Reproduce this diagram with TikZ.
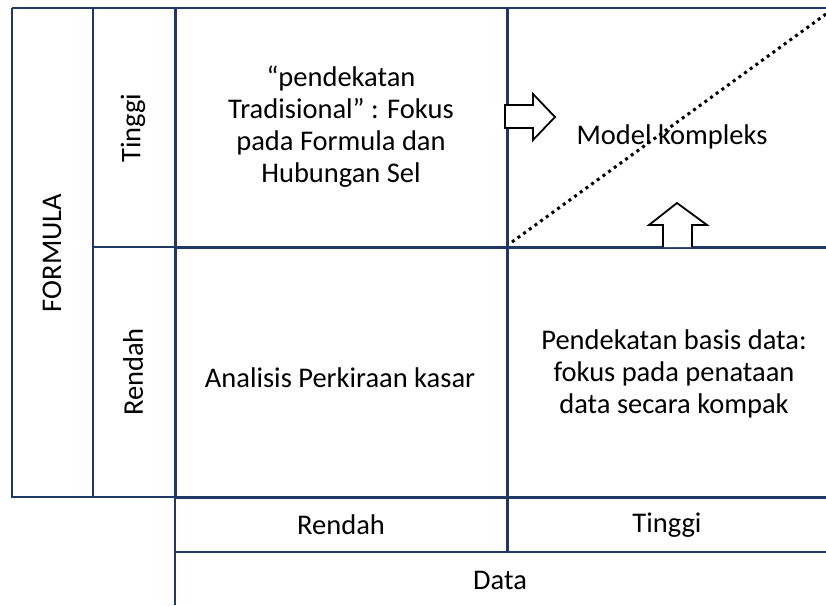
\documentclass[tikz,border=0pt]{standalone}
\usepackage{fontspec}
\setmainfont{Carlito}
\definecolor{navy}{HTML}{1F3864}
\begin{document}
\begin{tikzpicture}[x=1pt,y=-1pt,
  grid/.style={draw=navy,line width=2pt},
  gridthick/.style={draw=navy,line width=3pt},
  txt/.style={font=\fontsize{28.5}{32}\selectfont,align=center,inner sep=0pt},
  blockarrow/.style={draw=black,line width=1.8pt,fill=white,line join=miter}]
\useasboundingbox (0,0) rectangle (826,605);
% thin frame lines
\draw[grid] (12,8) -- (826,8);
\draw[grid] (12,8) -- (12,497) -- (826,497);
\draw[grid] (93,8) -- (93,497);
\draw[grid] (93,247) -- (175,247);
\draw[grid] (175,552) -- (826,552);
\draw[grid] (175,497) -- (175,605);
% thick inner lines
\draw[gridthick] (175,8) -- (175,497);
\draw[gridthick] (507,8) -- (507,552);
\draw[gridthick] (175,247) -- (826,247);
\draw[gridthick] (175,497) -- (826,497);
% dotted diagonal
\draw[line width=3pt,dash pattern=on 3pt off 4pt] (512,242) -- (826,14);
% block arrows
\draw[blockarrow] (505,105) -- (533,105) -- (533,94) -- (555,117) -- (533,140) -- (533,128) -- (505,128) -- cycle;
\draw[blockarrow] (663,247) -- (663,225) -- (649,225) -- (677,203) -- (707,225) -- (692,225) -- (692,247);
% texts
\node[txt] (formula) at (52,253) [rotate=90] {FORMULA};
\node[txt] (tinggiL) at (133,128) [rotate=90] {Tinggi};
\node[txt] (rendahL) at (133,372) [rotate=90] {Rendah};
\node[txt] (trad) at (341,127) {“pendekatan\\Tradisional” : Fokus\\pada Formula dan\\Hubungan Sel};
\node[txt] (model) at (672,137) {Model kompleks};
\node[txt] (kasar) at (340,378) {Analisis Perkiraan kasar};
\node[txt] (basis) at (674,374) {Pendekatan basis data:\\fokus pada penataan\\data secara kompak};
\node[txt] (rendahB) at (341,525) {Rendah};
\node[txt] (tinggiB) at (667,525) {Tinggi};
\node[txt] (data) at (500,580) {Data};
\end{tikzpicture}
\end{document}
